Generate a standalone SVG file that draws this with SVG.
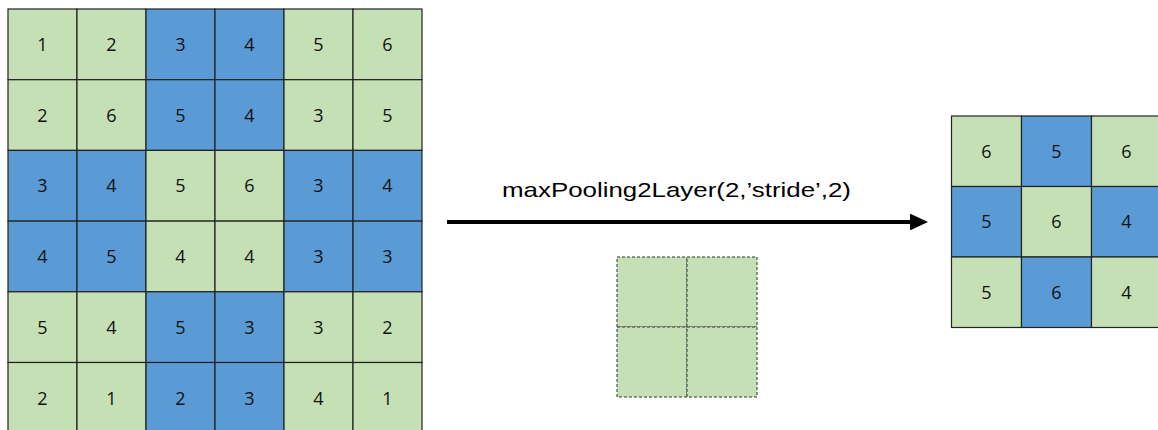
<svg xmlns="http://www.w3.org/2000/svg" width="1158" height="430" viewBox="0 0 1158 430">
  <style>
    .g { fill: #C5E0B4; stroke: #222; stroke-width: 1.2; }
    .b { fill: #5B9BD5; stroke: #222; stroke-width: 1.2; }
    .num { font-family: "Open Sans", "Noto Sans", sans-serif; font-size: 18px; fill: #111; text-anchor: middle; }
    .win { fill: #C5E0B4; stroke: #333; stroke-width: 1; stroke-dasharray: 3 2; }
    .label { font-family: "Liberation Sans", Arial, sans-serif; font-size: 21px; fill: #000; }
  </style>
  <defs>
    <marker id="arrowhead" markerWidth="4.5" markerHeight="4.2" refX="0" refY="2.1" orient="auto" markerUnits="strokeWidth">
      <path d="M0,0 L4.5,2.1 L0,4.2 Z" fill="#000"/>
    </marker>
  </defs>

  <rect width="1158" height="430" fill="#fff"/>

  <!-- 6x6 input feature map -->
  <g id="input-map">
    <g id="in-r1">
      <rect class="g" x="8" y="9" width="69" height="70.7"/><text class="num" x="42.5" y="51">1</text>
      <rect class="g" x="77" y="9" width="69" height="70.7"/><text class="num" x="111.5" y="51">2</text>
      <rect class="b" x="146" y="9" width="69" height="70.7"/><text class="num" x="180.5" y="51">3</text>
      <rect class="b" x="215" y="9" width="69" height="70.7"/><text class="num" x="249.5" y="51">4</text>
      <rect class="g" x="284" y="9" width="69" height="70.7"/><text class="num" x="318.5" y="51">5</text>
      <rect class="g" x="353" y="9" width="69" height="70.7"/><text class="num" x="387.5" y="51">6</text>
    </g>
    <g id="in-r2">
      <rect class="g" x="8" y="79.7" width="69" height="70.7"/><text class="num" x="42.5" y="121.7">2</text>
      <rect class="g" x="77" y="79.7" width="69" height="70.7"/><text class="num" x="111.5" y="121.7">6</text>
      <rect class="b" x="146" y="79.7" width="69" height="70.7"/><text class="num" x="180.5" y="121.7">5</text>
      <rect class="b" x="215" y="79.7" width="69" height="70.7"/><text class="num" x="249.5" y="121.7">4</text>
      <rect class="g" x="284" y="79.7" width="69" height="70.7"/><text class="num" x="318.5" y="121.7">3</text>
      <rect class="g" x="353" y="79.7" width="69" height="70.7"/><text class="num" x="387.5" y="121.7">5</text>
    </g>
    <g id="in-r3">
      <rect class="b" x="8" y="150.4" width="69" height="70.7"/><text class="num" x="42.5" y="192.4">3</text>
      <rect class="b" x="77" y="150.4" width="69" height="70.7"/><text class="num" x="111.5" y="192.4">4</text>
      <rect class="g" x="146" y="150.4" width="69" height="70.7"/><text class="num" x="180.5" y="192.4">5</text>
      <rect class="g" x="215" y="150.4" width="69" height="70.7"/><text class="num" x="249.5" y="192.4">6</text>
      <rect class="b" x="284" y="150.4" width="69" height="70.7"/><text class="num" x="318.5" y="192.4">3</text>
      <rect class="b" x="353" y="150.4" width="69" height="70.7"/><text class="num" x="387.5" y="192.4">4</text>
    </g>
    <g id="in-r4">
      <rect class="b" x="8" y="221.1" width="69" height="70.7"/><text class="num" x="42.5" y="263.1">4</text>
      <rect class="b" x="77" y="221.1" width="69" height="70.7"/><text class="num" x="111.5" y="263.1">5</text>
      <rect class="g" x="146" y="221.1" width="69" height="70.7"/><text class="num" x="180.5" y="263.1">4</text>
      <rect class="g" x="215" y="221.1" width="69" height="70.7"/><text class="num" x="249.5" y="263.1">4</text>
      <rect class="b" x="284" y="221.1" width="69" height="70.7"/><text class="num" x="318.5" y="263.1">3</text>
      <rect class="b" x="353" y="221.1" width="69" height="70.7"/><text class="num" x="387.5" y="263.1">3</text>
    </g>
    <g id="in-r5">
      <rect class="g" x="8" y="291.8" width="69" height="70.7"/><text class="num" x="42.5" y="333.8">5</text>
      <rect class="g" x="77" y="291.8" width="69" height="70.7"/><text class="num" x="111.5" y="333.8">4</text>
      <rect class="b" x="146" y="291.8" width="69" height="70.7"/><text class="num" x="180.5" y="333.8">5</text>
      <rect class="b" x="215" y="291.8" width="69" height="70.7"/><text class="num" x="249.5" y="333.8">3</text>
      <rect class="g" x="284" y="291.8" width="69" height="70.7"/><text class="num" x="318.5" y="333.8">3</text>
      <rect class="g" x="353" y="291.8" width="69" height="70.7"/><text class="num" x="387.5" y="333.8">2</text>
    </g>
    <g id="in-r6">
      <rect class="g" x="8" y="362.5" width="69" height="70.7"/><text class="num" x="42.5" y="404.5">2</text>
      <rect class="g" x="77" y="362.5" width="69" height="70.7"/><text class="num" x="111.5" y="404.5">1</text>
      <rect class="b" x="146" y="362.5" width="69" height="70.7"/><text class="num" x="180.5" y="404.5">2</text>
      <rect class="b" x="215" y="362.5" width="69" height="70.7"/><text class="num" x="249.5" y="404.5">3</text>
      <rect class="g" x="284" y="362.5" width="69" height="70.7"/><text class="num" x="318.5" y="404.5">4</text>
      <rect class="g" x="353" y="362.5" width="69" height="70.7"/><text class="num" x="387.5" y="404.5">1</text>
    </g>
  </g>

  <!-- pooling operation arrow and its label -->
  <g id="connectors">
    <line x1="447" y1="222" x2="910" y2="222" stroke="#000" stroke-width="4" marker-end="url(#arrowhead)"/>
  </g>
  <g id="op-label">
    <text class="label" x="502" y="197" textLength="349" lengthAdjust="spacingAndGlyphs">maxPooling2Layer(2,’stride’,2)</text>
  </g>

  <!-- 2x2 pooling window -->
  <g id="pool-window">
    <rect class="win" x="617" y="257" width="70" height="70"/>
    <rect class="win" x="687" y="257" width="70" height="70"/>
    <rect class="win" x="617" y="327" width="70" height="70"/>
    <rect class="win" x="687" y="327" width="70" height="70"/>
  </g>

  <!-- 3x3 pooled output -->
  <g id="output-map">
    <g id="out-r1">
      <rect class="g" x="951.5" y="116" width="70" height="70.5"/><text class="num" x="986.5" y="157.5">6</text>
      <rect class="b" x="1021.5" y="116" width="70" height="70.5"/><text class="num" x="1056.5" y="157.5">5</text>
      <rect class="g" x="1091.5" y="116" width="70" height="70.5"/><text class="num" x="1126.5" y="157.5">6</text>
    </g>
    <g id="out-r2">
      <rect class="b" x="951.5" y="186.5" width="70" height="70.5"/><text class="num" x="986.5" y="228">5</text>
      <rect class="g" x="1021.5" y="186.5" width="70" height="70.5"/><text class="num" x="1056.5" y="228">6</text>
      <rect class="b" x="1091.5" y="186.5" width="70" height="70.5"/><text class="num" x="1126.5" y="228">4</text>
    </g>
    <g id="out-r3">
      <rect class="g" x="951.5" y="257" width="70" height="70.5"/><text class="num" x="986.5" y="298.5">5</text>
      <rect class="b" x="1021.5" y="257" width="70" height="70.5"/><text class="num" x="1056.5" y="298.5">6</text>
      <rect class="g" x="1091.5" y="257" width="70" height="70.5"/><text class="num" x="1126.5" y="298.5">4</text>
    </g>
  </g>
</svg>
